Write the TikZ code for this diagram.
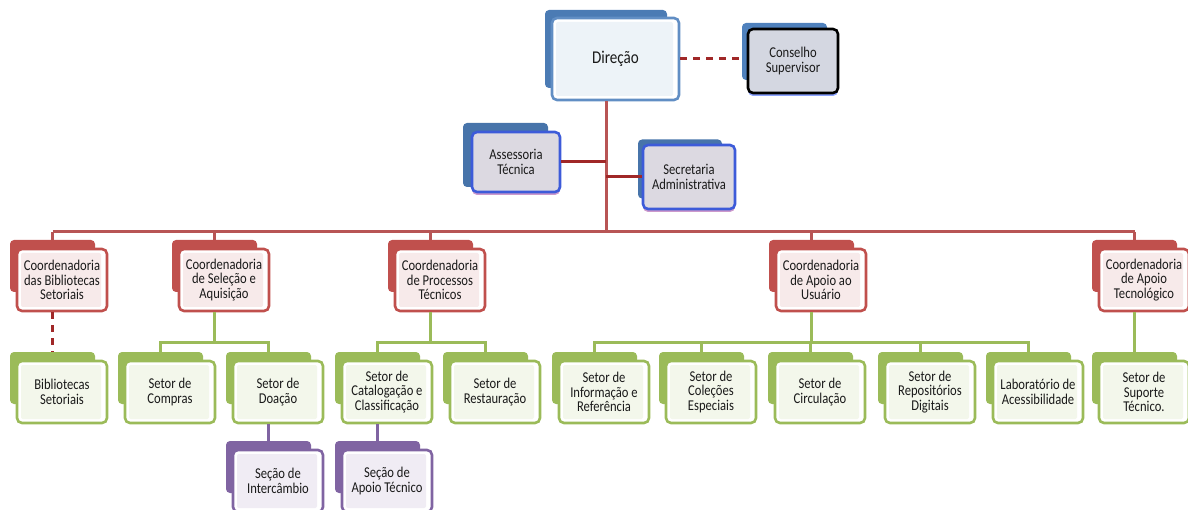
\documentclass[tikz,border=0pt]{standalone}
\usepackage{fontspec}
\setmainfont[FakeStretch=0.84]{Carlito}
\usetikzlibrary{shadows}
\definecolor{cred}{HTML}{C0504D}
\definecolor{cgreen}{HTML}{9BBB59}
\definecolor{cpurple}{HTML}{8064A2}
\definecolor{cblue}{HTML}{4F81BD}
\definecolor{lred}{HTML}{A02828}
\definecolor{busred}{HTML}{B85555}
\definecolor{selblue}{HTML}{3D5BD9}
\definecolor{selfill}{HTML}{DCD9E1}
\definecolor{confill}{HTML}{D4D7E1}
\definecolor{txt}{HTML}{1A1A1A}

\begin{document}
\begin{tikzpicture}[
    x=1pt, y=-1pt,
    bk/.style={rounded corners=4pt, minimum width=85pt, minimum height=52pt, inner sep=0pt},
    fr/.style={draw, rounded corners=5pt, line width=2.6pt, minimum width=90pt,
               minimum height=62pt, inner sep=1pt, align=center, fill=white, text=txt,
               font=\fontsize{15}{14.5}\selectfont},
    inset/.style={path picture={
        \fill[#1, rounded corners=2pt]
          ([shift={(4pt,4pt)}]path picture bounding box.south west) rectangle
          ([shift={(-6pt,-4pt)}]path picture bounding box.north east);}},
    rline/.style={line width=3pt, draw=lred},
    gline/.style={line width=3pt, draw=cgreen},
    pline/.style={line width=3pt, draw=cpurple},
    dline/.style={line width=3pt, draw=lred, dash pattern=on 7pt off 6pt},
  ]
  \useasboundingbox (0,0) rectangle (1188,510);

  % top: direction and its staff
  \node[bk, fill=cblue!95!black, minimum width=122pt, minimum height=78pt] (dir-b) at (606,49) {};
  \node[fr, draw=cblue!90!white, inset=cblue!10, minimum width=127pt, minimum height=82pt,
        font=\fontsize{18}{20}\selectfont] (dir) at (615.5,59) {Direção};

  \node[bk, fill=cblue, minimum width=85pt, minimum height=57pt] (con-b) at (784.5,51.5) {};
  \node[fr, draw=black, fill=confill, minimum width=90pt, minimum height=64pt,
        drop shadow={shadow xshift=0pt, shadow yshift=-3pt, fill=blue!80!cyan, opacity=0.45}]
        (con) at (793,61) {Conselho\\Supervisor};

  \node[bk, fill=cblue!90!black, minimum width=85pt, minimum height=64pt] (ass-b) at (505.5,155) {};
  \node[fr, draw=selblue, fill=selfill, minimum width=88pt, minimum height=60pt,
        drop shadow={shadow xshift=0pt, shadow yshift=-3pt, fill=violet!80, opacity=0.5}]
        (ass) at (516,162) {Assessoria\\Técnica};

  \node[bk, fill=cblue!90!black, minimum width=84pt, minimum height=59pt] (sec-b) at (680,169) {};
  \node[fr, draw=selblue, fill=selfill, minimum width=92pt, minimum height=64pt,
        drop shadow={shadow xshift=0pt, shadow yshift=-3pt, fill=violet!80, opacity=0.5}]
        (sec) at (689,177) {Secretaria\\Administrativa};

  % coordinations
  \foreach \n/\x/\t in {cbs/62/{Coordenadoria\\das Bibliotecas\\Setoriais},
                        csa/224/{Coordenadoria\\de Seleção e\\Aquisição},
                        cpt/440/{Coordenadoria\\de Processos\\Técnicos},
                        cau/821/{Coordenadoria\\de Apoio ao\\Usuário},
                        cat/1144/{Coordenadoria\\de Apoio\\Tecnológico}}{
    \node[bk, fill=cred] (\n-b) at (\x-9.5,266) {};
    \node[fr, draw=cred, inset=cred!12] (\n) at (\x,280) {\t};
  }

  % sectors
  \foreach \n/\x/\t in {bib/62/{Bibliotecas\\Setoriais},
                        com/170/{Setor de\\Compras},
                        doa/278/{Setor de\\Doação},
                        cla/387/{Setor de\\Catalogação e\\Classificação},
                        res/495/{Setor de\\Restauração},
                        inf/604/{Setor de\\Informação e\\Referência},
                        esp/711/{Setor de\\Coleções\\Especiais},
                        cir/820/{Setor de\\Circulação},
                        rep/930/{Setor de\\Repositórios\\Digitais},
                        lab/1038/{Laboratório de\\Acessibilidade},
                        sup/1144/{Setor de\\Suporte\\Técnico.}}{
    \node[bk, fill=cgreen] (\n-b) at (\x-9.5,378) {};
    \node[fr, draw=cgreen, inset=cgreen!12] (\n) at (\x,392) {\t};
  }

  % sections
  \foreach \n/\x/\t in {int/278/{Seção de\\Intercâmbio},
                        apt/387/{Seção de\\Apoio Técnico}}{
    \node[bk, fill=cpurple] (\n-b) at (\x-9.5,467) {};
    \node[fr, draw=cpurple, inset=cpurple!12] (\n) at (\x,481) {\t};
  }

  % connectors
  \draw[dline] (dir.east) -- (dir.east -| con-b.west);
  \draw[rline, draw=busred] (dir-b.south |- dir.south) -- (dir-b.south |- 0,232);
  \draw[rline] (ass.east) -- (ass.east -| dir-b.south);
  \draw[rline] (sec.west) -- (sec.west -| dir-b.south);
  \draw[rline, draw=busred] (cbs-b.north |- 0,232) -- (cat-b.north |- 0,232);
  \foreach \n in {cbs,csa,cpt,cau,cat}
    \draw[rline, draw=busred] (\n-b.north |- 0,232) -- (\n-b.north);

  \draw[dline] (cbs-b.south |- cbs.south) -- (bib-b.north);

  \draw[gline] (csa-b.south |- csa.south) -- (csa-b.south |- 0,343);
  \draw[gline] (com-b.north) -- (com-b.north |- 0,343) -- (doa-b.north |- 0,343) -- (doa-b.north);

  \draw[gline] (cpt-b.south |- cpt.south) -- (cpt-b.south |- 0,343);
  \draw[gline] (cla-b.north) -- (cla-b.north |- 0,343) -- (res-b.north |- 0,343) -- (res-b.north);

  \draw[gline] (cau-b.south |- cau.south) -- (cau-b.south |- 0,343);
  \draw[gline] (inf-b.north) -- (inf-b.north |- 0,343) -- (lab-b.north |- 0,343) -- (lab-b.north);
  \foreach \n in {esp,cir,rep}
    \draw[gline] (\n-b.north |- 0,343) -- (\n-b.north);

  \draw[gline] (cat-b.south |- cat.south) -- (sup-b.north);

  \draw[pline] (doa-b.south |- doa.south) -- (int-b.north);
  \draw[pline] (cla-b.south |- cla.south) -- (apt-b.north);

\end{tikzpicture}
\end{document}
